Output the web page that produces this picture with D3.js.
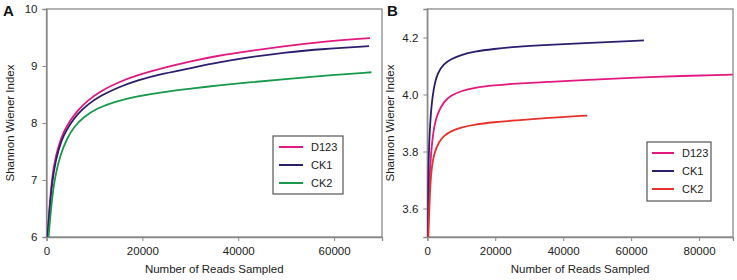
<!DOCTYPE html>
<html><head><meta charset="utf-8">
<script src="https://cdn.jsdelivr.net/npm/d3@7/dist/d3.min.js"></script>
<style>
body{margin:0;background:#fff;}
svg{display:block;font-family:"Liberation Sans",Arial,sans-serif;}
</style></head>
<body><svg id="c" width="737" height="280"></svg>
<script>
// ---------- Data ----------
const seriesNames = ["D123","CK1","CK2"];
// Panel A: [reads, Shannon index]
const A_D123 = [[200,6.0],[772,6.73],[1474,7.26],[2526,7.61],[3578,7.85],[4982,8.05],[6386,8.21],[8490,8.39],[11300,8.56],[14800,8.71],[19000,8.84],[23900,8.96],[31000,9.10],[35770,9.18],[42000,9.26],[49840,9.35],[58000,9.43],[67500,9.49]];
const A_CK1  = [[200,6.0],[772,6.62],[1474,7.17],[2526,7.55],[3578,7.79],[4982,7.99],[6386,8.15],[8490,8.32],[11300,8.48],[14800,8.62],[19000,8.75],[23900,8.86],[31000,8.98],[35770,9.06],[42000,9.15],[49840,9.24],[58000,9.30],[67300,9.35]];
const A_CK2  = [[420,6.0],[1123,6.67],[1825,7.08],[2877,7.44],[4280,7.73],[5680,7.93],[7800,8.11],[10600,8.26],[14100,8.37],[18300,8.46],[23900,8.54],[30900,8.61],[35770,8.66],[42000,8.71],[49840,8.77],[58000,8.83],[67800,8.89]];
// Panel B
const B_D123 = [[207,3.5],[502,3.665],[995,3.782],[1782,3.877],[2964,3.935],[4934,3.976],[6900,3.996],[9857,4.012],[13800,4.024],[19700,4.032],[25600,4.038],[35500,4.044],[45000,4.050],[59900,4.059],[75000,4.065],[89900,4.07]];
const B_CK1  = [[60,3.5],[207,3.689],[502,3.818],[995,3.935],[1782,4.018],[2964,4.077],[4934,4.108],[6900,4.124],[9857,4.139],[13800,4.151],[19700,4.160],[25600,4.167],[35500,4.174],[47100,4.181],[63800,4.19]];
const B_CK2  = [[300,3.5],[798,3.665],[1191,3.735],[1979,3.794],[3456,3.835],[4934,3.856],[6900,3.871],[9857,3.884],[13800,3.895],[19700,3.903],[25600,3.909],[35500,3.918],[47100,3.926]];

const A_xTicks = [0,20000,40000,60000];
const A_yTicks = [6,7,8,9,10];
const B_xTicks = [0,20000,40000,60000,80000];
const B_yTicks = [3.6,3.8,4.0,4.2];

const A_colors = ["#e3197f","#2d1e6e","#179a4b"];
const B_colors = ["#e3197f","#2d1e6e","#e8312b"];

const svg = d3.select("#c");
const axisCol = "#8a8a8a";

function panel(opts){
  const g = svg.append("g");
  const x = d3.scaleLinear().domain(opts.xd).range([opts.l, opts.r]);
  const y = d3.scaleLinear().domain(opts.yd).range([opts.b, opts.t]);
  g.append("rect").attr("x",opts.l).attr("y",opts.t).attr("width",opts.r-opts.l).attr("height",opts.b-opts.t)
    .attr("fill","none").attr("stroke",axisCol).attr("stroke-width",1.3);
  const cid = "clip"+opts.id;
  svg.append("clipPath").attr("id",cid).append("rect").attr("x",opts.l).attr("y",opts.t).attr("width",opts.r-opts.l).attr("height",opts.b-opts.t);
  const xa = g.append("g").attr("transform",`translate(0,${opts.b})`)
    .call(d3.axisBottom(x).tickValues(opts.xt).tickSize(4).tickPadding(6).tickFormat(d3.format("d")));
  const ya = g.append("g").attr("transform",`translate(${opts.l},0)`)
    .call(d3.axisLeft(y).tickValues(opts.yt).tickSize(4).tickPadding(5).tickFormat(opts.yf));
  [xa,ya].forEach(a=>{
    a.select(".domain").attr("stroke",axisCol).attr("stroke-width",1.3);
    a.selectAll(".tick line").attr("stroke",axisCol);
    a.selectAll(".tick text").attr("fill","#222").style("font-size","11.5px");
  });
  const line = d3.line().x(d=>x(d[0])).y(d=>y(d[1])).curve(d3.curveBasis);
  opts.series.forEach((s,i)=>{
    g.append("path").datum(s).attr("d",line).attr("fill","none")
      .attr("stroke",opts.colors[i]).attr("stroke-width",1.8).attr("clip-path",`url(#${cid})`);
  });
  g.append("text").attr("x",(opts.l+opts.r)/2).attr("y",273).attr("text-anchor","middle")
    .style("font-size","11.5px").attr("fill","#222").text("Number of Reads Sampled");
  g.append("text").attr("transform",`translate(${opts.ytx},${(opts.t+opts.b)/2}) rotate(-90)`)
    .attr("text-anchor","middle").style("font-size","11.5px").attr("fill","#222").text("Shannon Wiener Index");
  g.append("text").attr("x",opts.lx).attr("y",16).style("font-size","15px").style("font-weight","bold").attr("fill","#111").text(opts.label);
  const L = opts.leg;
  g.append("rect").attr("x",L.x).attr("y",L.y).attr("width",L.w).attr("height",L.h)
    .attr("fill","#fff").attr("stroke","#555").attr("stroke-width",1.2);
  seriesNames.forEach((n,i)=>{
    const yy = L.y + L.pad + i*L.step;
    g.append("line").attr("x1",L.x+L.lx1).attr("x2",L.x+L.lx2).attr("y1",yy).attr("y2",yy)
      .attr("stroke",opts.colors[i]).attr("stroke-width",2);
    g.append("text").attr("x",L.x+L.tx).attr("y",yy+4).style("font-size","11px").attr("fill","#222").text(n);
  });
}

panel({id:"A", l:46.5, r:382, t:9, b:237, xd:[0,70000], yd:[6,10], xt:A_xTicks, yt:A_yTicks,
  yf:d3.format("d"), series:[A_D123,A_CK1,A_CK2], colors:A_colors, ytx:14, lx:3, label:"A",
  leg:{x:273,y:136,w:70,h:58,pad:11,step:18,lx1:6,lx2:30,tx:38}});
panel({id:"B", l:427.3, r:733, t:9, b:237, xd:[0,90000], yd:[3.5,4.3], xt:B_xTicks, yt:B_yTicks,
  yf:d3.format(".1f"), series:[B_D123,B_CK1,B_CK2], colors:B_colors, ytx:394, lx:387, label:"B",
  leg:{x:647,y:142,w:64,h:59,pad:11,step:18,lx1:5,lx2:27,tx:35}});
</script></body></html>
